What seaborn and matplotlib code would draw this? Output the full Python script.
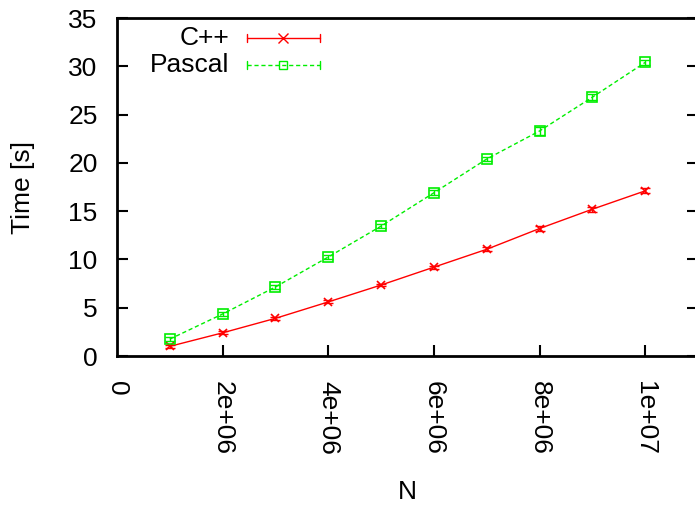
import matplotlib
matplotlib.use("Agg")
import matplotlib.pyplot as plt
import seaborn as sns
import pandas as pd
import numpy as np

N = [1e6, 2e6, 3e6, 4e6, 5e6, 6e6, 7e6, 8e6, 9e6, 1e7]
cpp = [1.0, 2.4, 3.9, 5.6, 7.35, 9.2, 11.05, 13.2, 15.2, 17.1]
cpp_err = [0.15, 0.15, 0.15, 0.15, 0.15, 0.15, 0.2, 0.3, 0.25, 0.25]
pascal = [1.75, 4.35, 7.15, 10.25, 13.45, 16.9, 20.4, 23.3, 26.8, 30.4]
pascal_err = [0.2, 0.2, 0.2, 0.2, 0.2, 0.25, 0.25, 0.4, 0.3, 0.25]
xticks = [0, 2e6, 4e6, 6e6, 8e6, 1e7]
xticklabels = ["0", "2e+06", "4e+06", "6e+06", "8e+06", "1e+07"]
yticks = [0, 5, 10, 15, 20, 25, 30, 35]

sns.set_style("white")
plt.rcParams['font.family'] = ['Liberation Sans', 'DejaVu Sans']
plt.rcParams['font.size'] = 19
for k in ["text.color", "axes.labelcolor", "xtick.color", "ytick.color"]:
    plt.rcParams[k] = "black"

RED = "#ff0000"
GREEN = "#00ee00"
FS = 19

fig = plt.figure(figsize=(6.95, 5.07), dpi=100)
ax = fig.add_axes([117/695, 1-356/507, (698-117)/695, (356-18)/507])

df = pd.DataFrame({"N": N, "cpp": cpp, "pascal": pascal})
sns.lineplot(data=df, x="N", y="cpp", ax=ax, color=RED, lw=1.0,
             marker="x", markersize=6, markeredgecolor=RED, markeredgewidth=1.2)
sns.lineplot(data=df, x="N", y="pascal", ax=ax, color=GREEN, lw=1.0,
             linestyle=(0, (3, 2)), marker="s", markersize=7,
             markerfacecolor="none", markeredgecolor=GREEN, markeredgewidth=1.2)
ax.errorbar(N, cpp, yerr=cpp_err, fmt="none", ecolor=RED, elinewidth=1.0, capsize=3.5)
ax.errorbar(N, pascal, yerr=pascal_err, fmt="none", ecolor=GREEN, elinewidth=1.0, capsize=3.5)

ax.set_xlim(0, 1.1e7)
ax.set_ylim(0, 35)
ax.set_xticks(xticks)
ax.set_xticklabels(xticklabels, rotation=-90, va="top", ha="center")
ax.set_yticks(yticks)
ax.tick_params(axis="y", direction="in", length=8, width=1.5, pad=14, left=True, right=True, labelsize=FS)
ax.tick_params(axis="x", direction="in", length=8, width=1.5, pad=18, bottom=True, top=False, labelsize=FS)
ax.xaxis.get_major_ticks()[0].tick1line.set_visible(False)

for s in ["left", "bottom", "top"]:
    ax.spines[s].set_linewidth(2)
    ax.spines[s].set_color("black")
ax.spines["right"].set_visible(False)

ax.set_xlabel("N", fontsize=FS, labelpad=18)
ax.set_ylabel("Time [s]", fontsize=FS, labelpad=24)

# legend drawn manually in gnuplot style
tr = ax.transAxes
def ax_x(px): return (px - 117) / (698 - 117)
def ax_y(py): return (356 - py) / (356 - 18)
rows = [("C++", RED, "-", "x", 7, 38), ("Pascal", GREEN, (0, (3, 2)), "s", 6, 65)]
for label, col, ls, mk, ms, py in rows:
    ax.text(ax_x(229), ax_y(py), label, transform=tr, ha="right", va="center", fontsize=FS)
    ax.plot([ax_x(247), ax_x(320)], [ax_y(py), ax_y(py)], transform=tr, color=col, ls=ls, lw=1.0)
    for ex in (247, 320):
        ax.plot([ax_x(ex), ax_x(ex)], [ax_y(py - 4), ax_y(py + 4)], transform=tr, color=col, lw=1.0)
    ax.plot([ax_x(283)], [ax_y(py)], transform=tr, marker=mk, color=col, ms=ms,
            markerfacecolor="none", markeredgecolor=col, lw=0)

fig.savefig("out.png", dpi=100)
